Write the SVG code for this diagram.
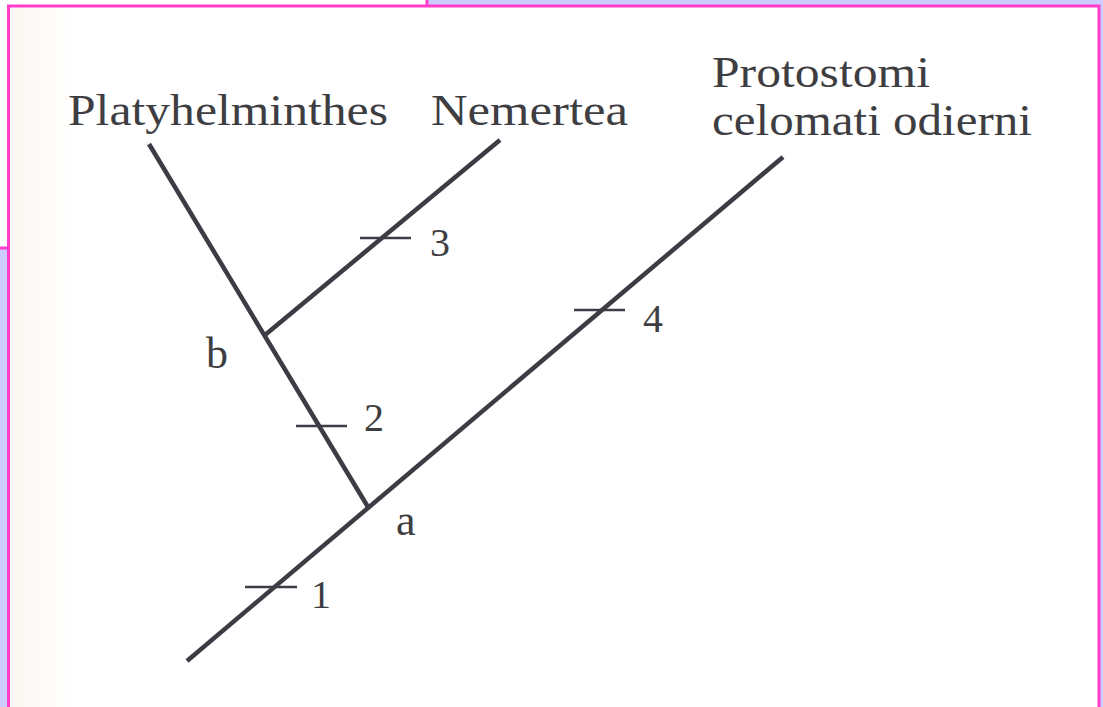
<svg xmlns="http://www.w3.org/2000/svg" width="1103" height="707" viewBox="0 0 1103 707">
  <defs>
    <linearGradient id="scan" x1="0" y1="0" x2="1" y2="0">
      <stop offset="0" stop-color="#fbf6f0"/>
      <stop offset="0.06" stop-color="#ffffff"/>
      <stop offset="1" stop-color="#ffffff"/>
    </linearGradient>
  </defs>
  <style>
    .frame { fill: #ffffff; stroke: #ff3ccc; stroke-width: 3; }
    .branch { stroke: #3c3c44; stroke-width: 4.5; stroke-linecap: butt; fill: none; }
    .tick { stroke: #3c3c44; stroke-width: 2.5; fill: none; }
    .lbl { font-family: "Liberation Serif", "Times New Roman", serif; fill: #3e3e42; }
    .taxon { font-size: 45px; }
    .node { font-size: 44px; }
    .num { font-size: 40px; }
  </style>
  <rect x="0" y="0" width="1103" height="707" fill="#ccccff"/>
  <rect class="frame" x="-10" y="-10" width="437" height="258"/>
  <rect class="frame" x="8.5" y="6" width="1090.5" height="720" style="fill:url(#scan)"/>

  <g id="connectors">
    <line class="branch" x1="187" y1="661" x2="783" y2="157"/>
    <line class="branch" x1="149" y1="144" x2="368" y2="507"/>
    <line class="branch" x1="265" y1="335" x2="500" y2="140"/>
    <line class="tick" x1="245" y1="587" x2="297" y2="587"/>
    <line class="tick" x1="296" y1="426" x2="347" y2="426"/>
    <line class="tick" x1="360" y1="238" x2="411" y2="238"/>
    <line class="tick" x1="574" y1="310" x2="625" y2="310"/>
  </g>

  <g id="taxon-platyhelminthes">
    <text class="lbl taxon" x="68" y="125" textLength="320" lengthAdjust="spacingAndGlyphs">Platyhelminthes</text>
  </g>
  <g id="taxon-nemertea">
    <text class="lbl taxon" x="431" y="125" textLength="197" lengthAdjust="spacingAndGlyphs">Nemertea</text>
  </g>
  <g id="taxon-protostomi">
    <text class="lbl taxon" x="712" y="87" textLength="218" lengthAdjust="spacingAndGlyphs">Protostomi</text>
    <text class="lbl taxon" x="712" y="135" textLength="320" lengthAdjust="spacingAndGlyphs">celomati odierni</text>
  </g>
  <g id="node-a">
    <text class="lbl node" x="396" y="535">a</text>
  </g>
  <g id="node-b">
    <text class="lbl node" x="206" y="368">b</text>
  </g>
  <g id="characters">
    <text class="lbl num" x="311" y="608">1</text>
    <text class="lbl num" x="364" y="431">2</text>
    <text class="lbl num" x="430" y="256">3</text>
    <text class="lbl num" x="643" y="332">4</text>
  </g>
</svg>
